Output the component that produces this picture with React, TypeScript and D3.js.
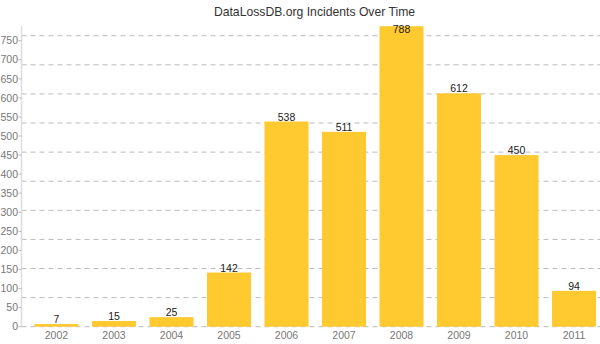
import React from "react";
import * as d3 from "d3";

const years = ["2002", "2003", "2004", "2005", "2006", "2007", "2008", "2009", "2010", "2011"];
const incidents = [7, 15, 25, 142, 538, 511, 788, 612, 450, 94];
const yTicks = d3.range(0, 751, 50);
const gridStep = 76.3;
const gridCount = 10;

const W = 600;
const H = 344;
const axisX = 21.5;
const baseY = 326.7;
const topY = 26;

export default function App() {
  const y = d3.scaleLinear().domain([0, 750]).range([baseY, 40.7]);
  const x = d3
    .scaleBand<string>()
    .domain(years)
    .range([22, 608.5])
    .paddingInner(0.235)
    .paddingOuter(0.217);
  const grid = d3.range(0, gridCount + 1).map((i) => i * gridStep);
  const font = "'Liberation Sans', Arial, Helvetica, sans-serif";

  return (
    <svg
      width={W}
      height={H}
      style={{ position: "absolute", left: 0, top: 0, fontFamily: font }}
    >
      <rect width={W} height={H} fill="#fff" />
      <text x={314.5} y={16} textAnchor="middle" fontSize={12.2} fill="#333">
        DataLossDB.org Incidents Over Time
      </text>
      {grid.map((g, i) => (
        <line
          key={"g" + i}
          x1={axisX}
          x2={W}
          y1={y(g)}
          y2={y(g)}
          stroke="#bbb"
          strokeDasharray="5,4"
          strokeWidth={1}
        />
      ))}
      <line x1={axisX} x2={axisX} y1={topY} y2={baseY} stroke="#ddd" strokeWidth={1.5} />
      {yTicks.map((t) => (
        <g key={"t" + t}>
          <line x1={axisX - 3} x2={axisX} y1={y(t)} y2={y(t)} stroke="#bbb" />
          <text
            x={axisX - 3.5}
            y={y(t)}
            dy="0.35em"
            textAnchor="end"
            fontSize={10.5}
            fill="#777"
          >
            {t}
          </text>
        </g>
      ))}
      {years.map((yr, i) => {
        const v = incidents[i];
        const bx = x(yr)!;
        const top = y(v);
        const ly = Math.max(top - 1, 33);
        return (
          <g key={yr}>
            <rect x={bx} y={top} width={x.bandwidth()} height={baseY - top} fill="#ffc930" />
            <text
              x={bx + x.bandwidth() / 2}
              y={ly}
              textAnchor="middle"
              fontSize={10.5}
              fill="#1a1a1a"
            >
              {v}
            </text>
            <text
              x={bx + x.bandwidth() / 2}
              y={339}
              textAnchor="middle"
              fontSize={10.5}
              fill="#777"
            >
              {yr}
            </text>
          </g>
        );
      })}
    </svg>
  );
}
